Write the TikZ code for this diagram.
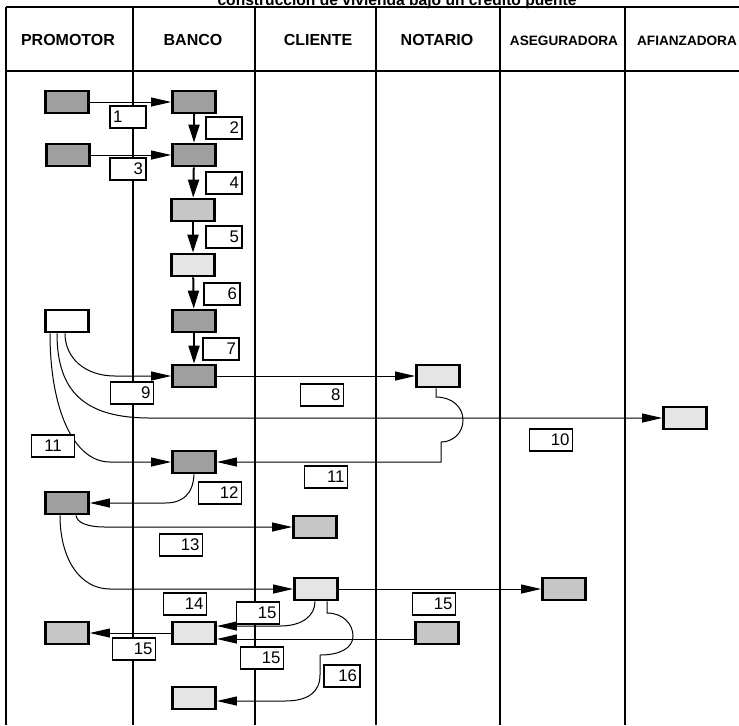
\documentclass[tikz,border=0pt]{standalone}
\usepackage{fontspec}
\setmainfont{Liberation Sans}
\usetikzlibrary{arrows.meta}
\tikzstyle{doc}=[rectangle,draw,fill=white,line width=1.4pt,minimum width=21.5pt,minimum height=11pt,inner sep=0pt]
\tikzstyle{docd}=[doc,fill=gray!75]
\tikzstyle{docm}=[doc,fill=gray!45]
\tikzstyle{docl}=[doc,fill=gray!20]
\tikzstyle{lbl}=[rectangle,draw,fill=white,line width=0.9pt,minimum height=11pt,inner xsep=1.5pt,inner ysep=0pt,text width=15pt,align=right,font=\fontsize{8.4}{9}\selectfont]
\tikzstyle{lblw}=[lbl,text width=18.5pt]
\tikzstyle{hdr}=[anchor=base,font=\fontsize{8}{9}\selectfont\bfseries]
\tikzstyle{hdrs}=[anchor=base,font=\fontsize{6.8}{8}\selectfont\bfseries]
\tikzstyle{lane}=[draw,line width=0.9pt]
\tikzstyle{arr}=[-{Triangle[length=10pt,width=4.5pt]},draw,line width=0.5pt]
\tikzstyle{arrv}=[-{Triangle[length=9pt,width=5.5pt]},draw,line width=1pt]
\begin{document}
\begin{tikzpicture}[x=0.5pt,y=-0.5pt]
    \useasboundingbox (0,0) rectangle (739,725);
    \node[anchor=base,font=\fontsize{7.8}{8}\selectfont\bfseries] (title) at (397,5) {construcción de vivienda bajo un crédito puente};
    % lanes
    \draw[lane] (6,7) -- (739,7);
    \draw[lane] (6,71) -- (739,71);
    \foreach \x in {6,133,255,376,500,625}
      \draw[lane] (\x,7) -- (\x,725);
    \node[hdr] (hP) at (68,45) {PROMOTOR};
    \node[hdr] (hB) at (193,45) {BANCO};
    \node[hdr] (hC) at (318,45) {CLIENTE};
    \node[hdr] (hN) at (437,45) {NOTARIO};
    \node[hdrs] (hA) at (564,45) {ASEGURADORA};
    \node[hdrs] (hF) at (687,45) {AFIANZADORA};
    % documents
    \node[docd] (P1) at (67,102) {};
    \node[docd] (B1) at (194,102) {};
    \node[docd] (P2) at (68,155) {};
    \node[docd] (B2) at (194,155) {};
    \node[docm] (B3) at (193,210) {};
    \node[docl] (B4) at (193,265) {};
    \node[docd] (B5) at (194,321) {};
    \node[doc] (P3) at (67,321) {};
    \node[docd] (B6) at (194,376) {};
    \node[docl] (N1) at (438,376) {};
    \node[docl] (F1) at (685,418) {};
    \node[docd] (B7) at (194,462) {};
    \node[docd] (P4) at (67,503) {};
    \node[docm] (C1) at (315,527) {};
    \node[docl] (C2) at (316,589) {};
    \node[docm] (A1) at (564,589) {};
    \node[docl] (B8) at (194,633) {};
    \node[docm] (P5) at (67,633) {};
    \node[docm] (N2) at (437,633) {};
    \node[docl] (B9) at (194,698) {};
    % flows
    \draw[arr] (P1) -- (B1);
    \draw[arr] (P2) -- (B2);
    \draw[arrv] (B1) -- (B2);
    \draw[arrv] (B2) -- (B3);
    \draw[arrv] (B3) -- (B4);
    \draw[arrv] (B4) -- (B5);
    \draw[arrv] (B5) -- (B6);
    \draw[arr] ([xshift=-1pt]P3.south) .. controls (65,358) and (85,376) .. (115,376) -- (B6.west);
    \draw[arr] ([xshift=-5pt]P3.south) .. controls (57,392) and (85,418) .. (150,418) -- (F1.west);
    \draw[arr] ([xshift=-8.5pt]P3.south) .. controls (50,410) and (74,462) .. (110,462) -- (B7.west);
    \draw[arr] (B6) -- (N1);
    \draw[arr] ([xshift=-1pt]N1.south) -- (436,397) .. controls (452,397) and (463,407) .. (463,420)
      .. controls (463,433) and (453,442) .. (441,442) -- (441,462) -- (B7.east);
    \draw[arr] (B7.south) .. controls (193,495) and (182,503) .. (165,503) -- (P4.east);
    \draw[arr] ([xshift=4.5pt]P4.south) .. controls (77,523) and (88,527) .. (105,527) -- (C1.west);
    \draw[arr] ([xshift=-3.5pt]P4.south) .. controls (60,559) and (80,589) .. (110,589) -- (C2.west);
    \draw[arr] (C2) -- (A1);
    \draw[arr] ([xshift=-0.5pt]C2.south) .. controls (315,616) and (302,626) .. (280,626) -- ([yshift=3.5pt]B8.east);
    \draw[arr] ([yshift=-3pt]N2.west) -- ([yshift=-3pt]B8.east);
    \draw[arr] (B8) -- (P5);
    \draw[arr] ([xshift=5.5pt]C2.south) -- (327,613) .. controls (343,613) and (353,624) .. (353,636)
      .. controls (353,648) and (340,655) .. (320,655) -- (320,675)
      .. controls (320,692) and (308,701) .. (285,701) -- ([yshift=-1.5pt]B9.east);
    % step numbers
    \node[lbl,align=left] (L1) at (128,117) {1};
    \node[lbl] (L2) at (224,128) {2};
    \node[lbl] (L3) at (128,169) {3};
    \node[lbl] (L4) at (224,183) {4};
    \node[lbl] (L5) at (224,237) {5};
    \node[lbl] (L6) at (222,294) {6};
    \node[lbl] (L7) at (221,349) {7};
    \node[lblw] (L9) at (132,393) {9};
    \node[lblw] (L8) at (322,395) {8};
    \node[lblw] (L10) at (551,440) {10};
    \node[lblw,align=center] (L11a) at (53,446) {11};
    \node[lblw] (L11b) at (326,477) {11};
    \node[lblw] (L12) at (220,493) {12};
    \node[lblw] (L13) at (181,545) {13};
    \node[lblw] (L14) at (185,604) {14};
    \node[lblw] (L15a) at (258,613) {15};
    \node[lblw] (L15b) at (134,649) {15};
    \node[lblw] (L15c) at (262,658) {15};
    \node[lblw] (L15d) at (434,604) {15};
    \node[lbl] (L16) at (342,676) {16};
\end{tikzpicture}
\end{document}
